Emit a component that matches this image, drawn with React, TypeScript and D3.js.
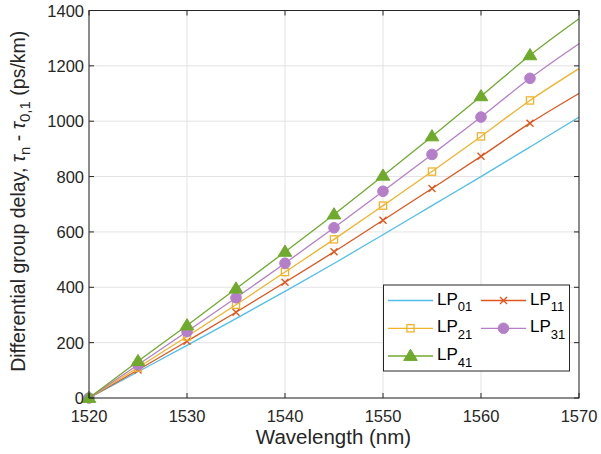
import React from "react";
import * as d3 from "d3";

const wavelengths = [1520, 1525, 1530, 1535, 1540, 1545, 1550, 1555, 1560, 1565, 1570];
const lp01 = [0, 95, 190, 287, 385, 486, 590, 695, 800, 907, 1015];
const lp11 = [0, 101, 205, 310, 418, 528, 642, 757, 873, 993, 1100];
const lp21 = [0, 110, 222, 337, 455, 573, 695, 818, 945, 1075, 1190];
const lp31 = [0, 120, 240, 362, 487, 615, 747, 880, 1015, 1155, 1280];
const lp41 = [0, 133, 262, 395, 528, 663, 803, 945, 1090, 1238, 1370];
const xTicks = [1520, 1530, 1540, 1550, 1560, 1570];
const yTicks = [0, 200, 400, 600, 800, 1000, 1200, 1400];

const series = [
  { name: "01", values: lp01, color: "#4DBEEE", marker: "none" },
  { name: "11", values: lp11, color: "#E0561D", marker: "x" },
  { name: "21", values: lp21, color: "#F2B22A", marker: "square" },
  { name: "31", values: lp31, color: "#B47FC8", marker: "circle" },
  { name: "41", values: lp41, color: "#6FAA2C", marker: "triangle" },
];

const W = 601, H = 454;
const L = 89, R = 579, T = 10.5, B = 398;
const font = "'Liberation Sans', Arial, Helvetica, sans-serif";

function Marker({ type, x, y, color }: { type: string; x: number; y: number; color: string }) {
  if (type === "x") {
    const s = 3.5;
    return (
      <path d={`M${x - s},${y - s}L${x + s},${y + s}M${x - s},${y + s}L${x + s},${y - s}`} stroke={color} strokeWidth={1.4} fill="none" />
    );
  }
  if (type === "square") {
    const s = 3.6;
    return <rect x={x - s} y={y - s} width={2 * s} height={2 * s} fill="none" stroke={color} strokeWidth={1.3} />;
  }
  if (type === "circle") {
    return <circle cx={x} cy={y} r={5.3} fill={color} stroke={color} />;
  }
  if (type === "triangle") {
    const s = 6.8;
    return <path d={`M${x},${y - s}L${x + s},${y + s * 0.65}L${x - s},${y + s * 0.65}Z`} fill={color} stroke={color} />;
  }
  return null;
}

export default function App() {
  const x = d3.scaleLinear().domain([1520, 1570]).range([L, R]);
  const y = d3.scaleLinear().domain([0, 1400]).range([B, T]);
  const line = d3
    .line<number>()
    .x((_, i) => x(wavelengths[i]))
    .y((d) => y(d))
    .curve(d3.curveMonotoneX);

  const legendItems = [
    { s: series[0], lx: 388, ly: 300.5 },
    { s: series[1], lx: 481, ly: 300.5 },
    { s: series[2], lx: 388, ly: 328.3 },
    { s: series[3], lx: 481, ly: 328.3 },
    { s: series[4], lx: 388, ly: 356 },
  ];

  return (
    <svg width={W} height={H} style={{ position: "absolute", left: 0, top: 0, background: "#fff" }} fontFamily={font}>
      <rect x={0} y={0} width={W} height={H} fill="#fff" />
      {xTicks.map((t) => (
        <line key={"gx" + t} x1={x(t)} x2={x(t)} y1={T} y2={B} stroke="#e3e3e3" strokeWidth={1} />
      ))}
      {yTicks.map((t) => (
        <line key={"gy" + t} x1={L} x2={R} y1={y(t)} y2={y(t)} stroke="#e3e3e3" strokeWidth={1} />
      ))}
      {series.map((s) => (
        <g key={s.name}>
          <path d={line(s.values) || ""} fill="none" stroke={s.color} strokeWidth={1.3} />
          {s.values.slice(0, 10).map((v, i) => (
            <Marker key={i} type={s.marker} x={x(wavelengths[i])} y={y(v)} color={s.color} />
          ))}
        </g>
      ))}
      <rect x={L} y={T} width={R - L} height={B - T} fill="none" stroke="#262626" strokeWidth={1} />
      {xTicks.map((t) => (
        <g key={"tx" + t}>
          <line x1={x(t)} x2={x(t)} y1={B} y2={B - 5} stroke="#262626" />
          <line x1={x(t)} x2={x(t)} y1={T} y2={T + 5} stroke="#262626" />
          <text x={x(t)} y={421.5} textAnchor="middle" fontSize={16.5} fill="#262626">
            {t}
          </text>
        </g>
      ))}
      {yTicks.map((t) => (
        <g key={"ty" + t}>
          <line x1={L} x2={L + 5} y1={y(t)} y2={y(t)} stroke="#262626" />
          <line x1={R} x2={R - 5} y1={y(t)} y2={y(t)} stroke="#262626" />
          <text x={84} y={y(t) + 6} textAnchor="end" fontSize={16.5} fill="#262626">
            {t}
          </text>
        </g>
      ))}
      <text x={(L + R) / 2 - 0.5} y={443.5} textAnchor="middle" fontSize={20.5} fill="#262626">
        Wavelength (nm)
      </text>
      <text transform={`translate(25,${(T + B) / 2 - 3}) rotate(-90)`} textAnchor="middle" fontSize={19.5} fill="#262626">
        Differential group delay,{" "}
        <tspan fontStyle="italic">τ</tspan>
        <tspan dy={5} fontSize={15}>n</tspan>
        <tspan dy={-5}> - </tspan>
        <tspan fontStyle="italic">τ</tspan>
        <tspan dy={5} fontSize={15}>0,1</tspan>
        <tspan dy={-5}> (ps/km)</tspan>
      </text>
      <rect x={383.5} y={285} width={186} height={86} fill="#fff" stroke="#262626" strokeWidth={1} />
      {legendItems.map(({ s, lx, ly }) => (
        <g key={"lg" + s.name}>
          <line x1={lx} x2={lx + 45} y1={ly} y2={ly} stroke={s.color} strokeWidth={1.3} />
          <Marker type={s.marker} x={lx + 22.5} y={ly} color={s.color} />
          <text x={lx + 49} y={ly + 4} fontSize={17} fill="#000">
            LP<tspan dy={6.5} fontSize={13}>{s.name}</tspan>
          </text>
        </g>
      ))}
    </svg>
  );
}
